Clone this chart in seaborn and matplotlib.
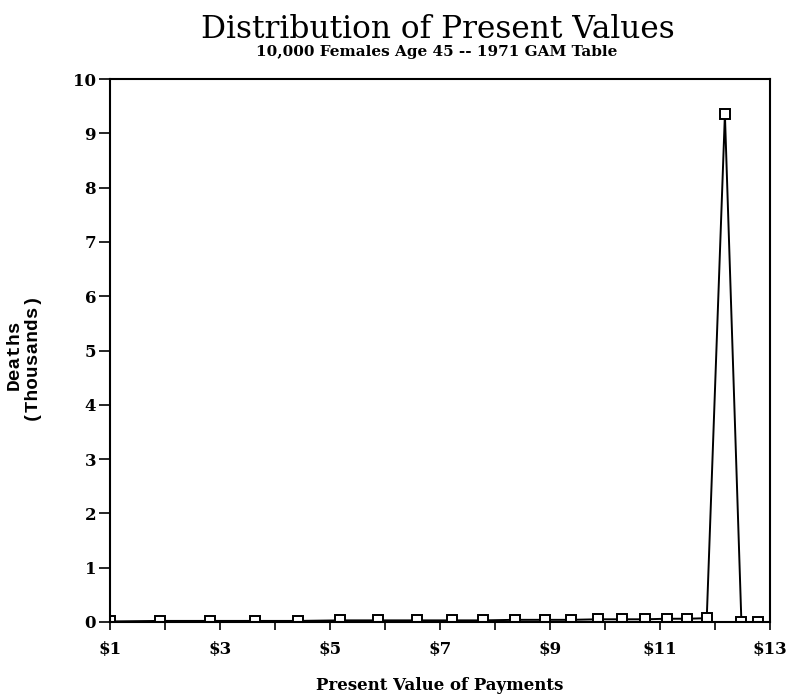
import matplotlib
matplotlib.use("Agg")
import matplotlib.pyplot as plt
import seaborn as sns
import pandas as pd

present_value = [1.0, 1.91, 2.82, 3.64, 4.42, 5.18, 5.87, 6.58, 7.21, 7.79, 8.36,
                 8.90, 9.39, 9.87, 10.30, 10.73, 11.12, 11.49, 11.85, 12.18, 12.48, 12.79]
deaths_thousands = [0.01, 0.02, 0.02, 0.02, 0.02, 0.03, 0.03, 0.03, 0.03, 0.03, 0.04,
                    0.04, 0.04, 0.05, 0.05, 0.05, 0.06, 0.06, 0.07, 9.35, 0.0, 0.0]
x_ticks = list(range(1, 14))
x_tick_labels = [f"${v}" if v % 2 == 1 else "" for v in x_ticks]
y_ticks = list(range(0, 11))

df = pd.DataFrame({"pv": present_value, "deaths": deaths_thousands})

sns.set_style("ticks")
plt.rcParams['font.family'] = ['DejaVu Serif', 'DejaVu Sans']
plt.rcParams['text.color'] = 'black'
plt.rcParams['xtick.color'] = 'black'
plt.rcParams['ytick.color'] = 'black'

fig = plt.figure(figsize=(7.89, 6.96), dpi=100)
ax = fig.add_axes([110/789, 1-622/696, (770-110)/789, (622-79)/696])

sns.lineplot(data=df, x="pv", y="deaths", ax=ax, color="black", linewidth=1.4,
             marker="s", markersize=7, markerfacecolor="white",
             markeredgecolor="black", markeredgewidth=1.4)

ax.set_xlim(1, 13)
ax.set_ylim(0, 10)
ax.set_xticks(x_ticks)
ax.set_xticklabels(x_tick_labels, fontsize=12, fontweight="bold")
ax.set_yticks(y_ticks)
ax.set_yticklabels([str(v) for v in y_ticks], fontsize=12, fontweight="bold")
ax.tick_params(axis="x", direction="out", length=6, width=1.2, pad=8,
               color="black", labelcolor="black")
ax.tick_params(axis="y", direction="out", length=8, width=1.2, pad=2,
               color="black", labelcolor="black")
for s in ax.spines.values():
    s.set_visible(True)
    s.set_linewidth(1.5)
    s.set_color("black")
ax.set_xlabel("")
ax.set_ylabel("")

fig.text(438/789, 1-30/696, "Distribution of Present Values", ha="center", va="center",
         fontsize=22.5, family="DejaVu Serif", color="black")
fig.text(437/789, 1-52/696, "10,000 Females Age 45 -- 1971 GAM Table", ha="center",
         va="center", fontsize=11, fontweight="bold", color="black")
fig.text(440/789, 1-686/696, "Present Value of Payments", ha="center", va="center",
         fontsize=12, fontweight="bold", color="black")
fig.text(22/789, 1-355/696, "Deaths\n(Thousands)", ha="center", va="center",
         rotation=90, fontsize=14, fontweight="bold", family="Liberation Mono",
         linespacing=0.95, color="black")

fig.savefig("out.png", dpi=100, facecolor="white")
